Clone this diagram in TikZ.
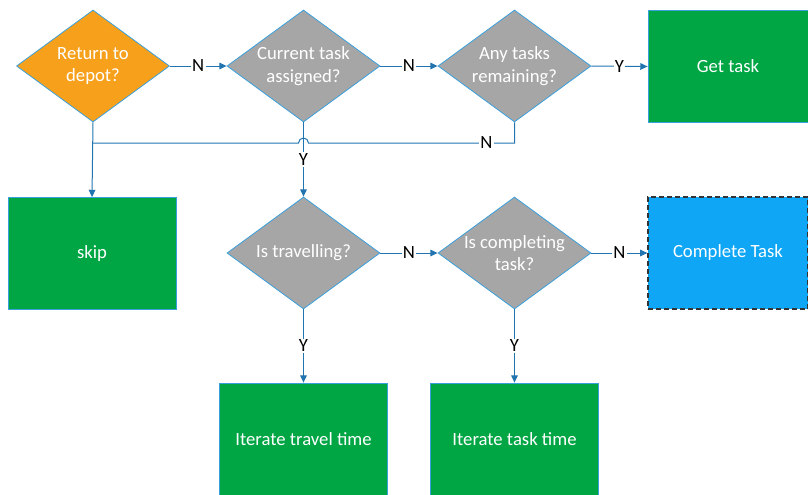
\documentclass[tikz,border=0pt]{standalone}
\usepackage{fontspec}
\setmainfont{Carlito}
\usepackage{xcolor}
\usetikzlibrary{shapes.geometric,arrows.meta}

\definecolor{depotorange}{RGB}{247,160,28}
\definecolor{askgray}{RGB}{166,166,166}
\definecolor{taskgreen}{RGB}{0,165,68}
\definecolor{doneblue}{RGB}{14,166,245}
\definecolor{edgeblue}{RGB}{58,160,220}
\definecolor{linkblue}{RGB}{34,116,176}

\begin{document}
\begin{tikzpicture}[x=0.75pt,y=-0.75pt,
        every node/.style={font=\fontsize{14}{17}\selectfont},
        ask/.style={diamond,aspect=1.37,fill=askgray,draw=edgeblue,line width=0.6pt,
            text=white,align=center,inner sep=0pt,minimum width=114.75pt,minimum height=84pt},
        act/.style={rectangle,fill=taskgreen,draw=edgeblue,line width=0.6pt,
            text=white,minimum width=126pt,minimum height=84pt},
        link/.style={draw=linkblue,line width=0.75pt,-{Triangle[length=5.5pt,width=5pt]}},
        yn/.style={fill=white,inner sep=1pt,text=black}]
            \useasboundingbox (0,0) rectangle (808,494);
            % decisions
            \node[ask,fill=depotorange] (ret) at (93,66) {Return to\\depot?};
            \node[ask] (cur) at (303.5,66) {Current task\\assigned?};
            \node[ask] (any) at (514.5,66) {Any tasks\\remaining?};
            \node[ask] (tra) at (303.5,253) {Is travelling?};
            \node[ask] (cmp) at (514.5,253) {Is completing\\task?};
            % actions
            \node[act,minimum width=120pt] (get) at (728,66.5) {Get task};
            \node[act] (skip) at (92,253.5) {skip};
            \node[act,minimum width=120pt,fill=doneblue,draw=black!80,line width=0.9pt,
                dash pattern=on 4pt off 2pt] (done) at (728,253) {Complete Task};
            \node[act] (itt) at (303.5,439) {Iterate travel time};
            \node[act] (itk) at (514.5,439) {Iterate task time};
            % connectors
            \draw[link] (ret.east) -- node[yn]{N} (cur.west);
            \draw[link] (cur.east) -- node[yn]{N} (any.west);
            \draw[link] (any.east) -- node[yn]{Y} (get.west);
            \coordinate (join) at (ret.south |- 0,143);
            \coordinate (hop) at (cur.south |- 0,143);
            \draw[link,-] (any.south) |- node[yn,pos=0.568]{N} ([xshift=3.75pt]hop)
                arc (0:180:3.75pt) -- (join);
            \draw[link] (ret.south) -- (skip.north);
            \draw[link] (cur.south) -- node[yn]{Y} (tra.north);
            \draw[link] (tra.east) -- node[yn]{N} (cmp.west);
            \draw[link] (cmp.east) -- node[yn]{N} (done.west);
            \draw[link] (tra.south) -- node[yn]{Y} (itt.north);
            \draw[link] (cmp.south) -- node[yn]{Y} (itk.north);
\end{tikzpicture}
\end{document}
